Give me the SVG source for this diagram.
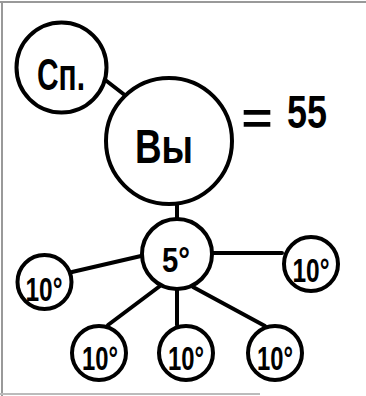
<svg xmlns="http://www.w3.org/2000/svg" width="366" height="396" viewBox="0 0 366 396">
<style>
.n{fill:#fff;stroke:#000;stroke-width:4}
.c{stroke:#000;stroke-width:4;fill:none;stroke-linecap:round}
.t{font-family:"Liberation Sans",Arial,sans-serif;font-weight:bold;fill:#000;text-anchor:middle}
.f{stroke:#999;stroke-width:2;fill:none}
</style>
<rect width="366" height="396" fill="#fff"/>
<g id="frame">
<line class="f" x1="0" y1="2" x2="366" y2="2"/>
<line class="f" x1="2" y1="2" x2="2" y2="396"/>
<line x1="0" y1="394" x2="260" y2="394" stroke="#bbb" stroke-width="2"/>
</g>
<g id="connectors">
<line class="c" x1="104" y1="79" x2="126" y2="96"/>
<line class="c" x1="177" y1="203" x2="177" y2="219"/>
<line class="c" x1="72" y1="272" x2="141" y2="256"/>
<line class="c" x1="213" y1="253" x2="282" y2="253"/>
<line class="c" x1="160" y1="286" x2="108" y2="325"/>
<line class="c" x1="177" y1="289" x2="177" y2="325"/>
<line class="c" x1="193" y1="287" x2="265" y2="326"/>
</g>
<g id="node-sp">
<circle class="n" cx="61.5" cy="67.5" r="45"/>
<text class="t" x="61" y="90" font-size="44" textLength="48" lengthAdjust="spacingAndGlyphs">Сп.</text>
</g>
<g id="node-vy">
<circle class="n" cx="169" cy="141" r="63"/>
<text class="t" x="164" y="163" font-size="48" textLength="58" lengthAdjust="spacingAndGlyphs">Вы</text>
</g>
<g id="label-eq">
<text class="t" x="257" y="134" font-size="44" textLength="31" lengthAdjust="spacingAndGlyphs">=</text>
<text class="t" x="307" y="128" font-size="46" textLength="40" lengthAdjust="spacingAndGlyphs">55</text>
</g>
<g id="node-5">
<circle class="n" cx="177" cy="254" r="35"/>
<text class="t" x="176" y="272" font-size="35" textLength="28" lengthAdjust="spacingAndGlyphs">5°</text>
</g>
<g id="node-10-left">
<circle class="n" cx="44.5" cy="282" r="27"/>
<text class="t" x="44" y="301" font-size="34" textLength="37" lengthAdjust="spacingAndGlyphs">10°</text>
</g>
<g id="node-10-right">
<circle class="n" cx="311" cy="264" r="27"/>
<text class="t" x="311" y="282" font-size="34" textLength="37" lengthAdjust="spacingAndGlyphs">10°</text>
</g>
<g id="node-10-b1">
<circle class="n" cx="99" cy="353" r="27"/>
<text class="t" x="100" y="370" font-size="34" textLength="36" lengthAdjust="spacingAndGlyphs">10°</text>
</g>
<g id="node-10-b2">
<circle class="n" cx="186" cy="353" r="27"/>
<text class="t" x="186" y="370" font-size="34" textLength="36" lengthAdjust="spacingAndGlyphs">10°</text>
</g>
<g id="node-10-b3">
<circle class="n" cx="275" cy="353" r="27"/>
<text class="t" x="275" y="370" font-size="34" textLength="36" lengthAdjust="spacingAndGlyphs">10°</text>
</g>
</svg>
